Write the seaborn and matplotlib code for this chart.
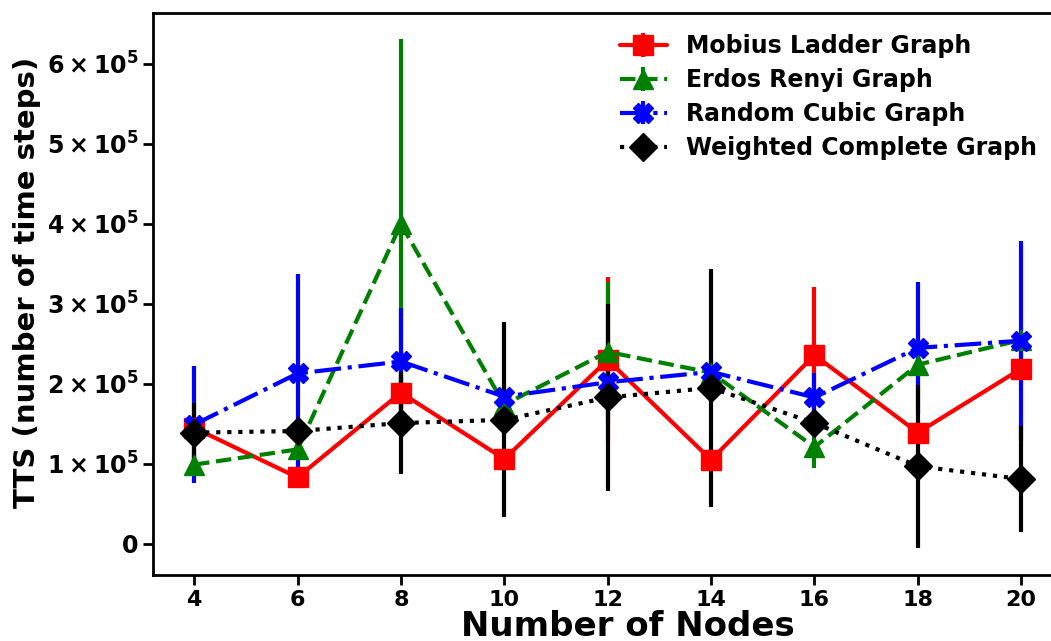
import numpy as np
import matplotlib
matplotlib.use("Agg")
import matplotlib.pyplot as plt
import seaborn as sns
from matplotlib.ticker import FuncFormatter

nodes = [4, 6, 8, 10, 12, 14, 16, 18, 20]

mobius_mean = [1.45e5, 0.83e5, 1.89e5, 1.06e5, 2.30e5, 1.05e5, 2.36e5, 1.39e5, 2.19e5]
mobius_err = [0.15e5, 0.10e5, 0.20e5, 0.15e5, 1.04e5, 0.15e5, 0.85e5, 0.15e5, 0.20e5]

erdos_mean = [0.99e5, 1.18e5, 4.00e5, 1.74e5, 2.40e5, 2.14e5, 1.21e5, 2.24e5, 2.55e5]
erdos_err = [0.15e5, 0.15e5, 2.31e5, 0.15e5, 0.88e5, 0.15e5, 0.26e5, 0.15e5, 0.15e5]

cubic_mean = [1.49e5, 2.13e5, 2.28e5, 1.84e5, 2.02e5, 2.15e5, 1.83e5, 2.45e5, 2.54e5]
cubic_err = [0.73e5, 1.25e5, 0.67e5, 0.15e5, 0.15e5, 0.15e5, 0.30e5, 0.83e5, 1.25e5]

complete_mean = [1.39e5, 1.41e5, 1.51e5, 1.55e5, 1.83e5, 1.95e5, 1.51e5, 0.97e5, 0.81e5]
complete_err = [0.37e5, 0.10e5, 0.64e5, 1.22e5, 1.17e5, 1.49e5, 0.15e5, 1.02e5, 0.66e5]

series = [
    ("Mobius Ladder Graph", mobius_mean, mobius_err, "red", "s", "-"),
    ("Erdos Renyi Graph", erdos_mean, erdos_err, "green", "^", "--"),
    ("Random Cubic Graph", cubic_mean, cubic_err, "blue", "X", "-."),
    ("Weighted Complete Graph", complete_mean, complete_err, "black", "D", ":"),
]

sns.set_theme(style="ticks")
plt.rcParams["font.family"] = ["DejaVu Sans"]
plt.rcParams["font.weight"] = "bold"
plt.rcParams["mathtext.default"] = "bf"
plt.rcParams["text.color"] = "black"
plt.rcParams["axes.labelcolor"] = "black"
plt.rcParams["xtick.color"] = "black"
plt.rcParams["ytick.color"] = "black"

fig = plt.figure(figsize=(10.51, 6.41), dpi=100)
ax = fig.add_axes([0.1456, 0.103, 0.862, 0.877])

for label, mean, err, color, marker, ls in series:
    ax.errorbar(nodes, mean, yerr=err, color=color, marker=marker, linestyle=ls,
                linewidth=3.0, markersize=14, elinewidth=3, capsize=0,
                label=label)

ax.set_xlim(3.205, 20.73)
ax.set_ylim(-0.39e5, 6.64e5)
ax.set_xticks(nodes)
ax.set_yticks([0, 1e5, 2e5, 3e5, 4e5, 5e5, 6e5])


def sci_fmt(v, pos):
    if v == 0:
        return "0"
    k = int(round(v / 1e5))
    return r"$\mathbf{%d\times10^{5}}$" % k


ax.yaxis.set_major_formatter(FuncFormatter(sci_fmt))
ax.tick_params(axis="both", direction="out", length=7, width=2, labelsize=16)
ax.tick_params(axis="y", labelsize=17)
for lab in ax.get_xticklabels() + ax.get_yticklabels():
    lab.set_fontweight("bold")
for sp in ax.spines.values():
    sp.set_linewidth(2)
    sp.set_color("black")

ax.set_xlabel("Number of Nodes", fontsize=24.5, fontweight="bold", labelpad=0)
ax.xaxis.label.set_x(0.524)
ax.set_ylabel("TTS (number of time steps)", fontsize=21, fontweight="bold", labelpad=4)
ax.yaxis.label.set_y(0.52)

ax.legend(loc="upper right", frameon=False, prop={"weight": "bold", "size": 17},
          handlelength=2.0, handletextpad=0.8, labelspacing=0.42,
          bbox_to_anchor=(0.999, 1.0))

fig.savefig("out.png", dpi=100)
